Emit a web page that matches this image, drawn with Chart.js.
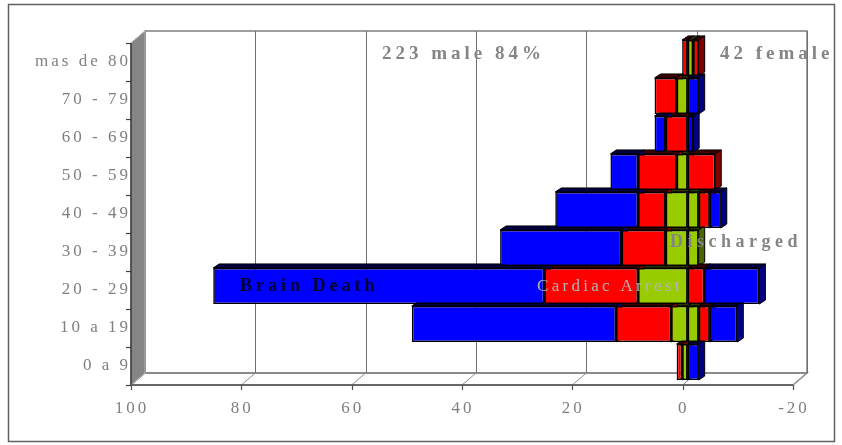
<!DOCTYPE html>
<html><head><meta charset="utf-8">
<script src="https://cdn.jsdelivr.net/npm/chart.js@4.4.1/dist/chart.umd.min.js"></script>
<style>html,body{margin:0;padding:0;background:#fff;overflow:hidden}</style>
</head><body>
<canvas id="c" width="842" height="445"></canvas>
<script>
// ---- data (top row first) ----
const categories = ['mas de 80','70 - 79','60 - 69','50 - 59','40 - 49','30 - 39','20 - 29','10 a 19','0 a 9'];
const maleDischarged     = [0,2,0,2,4,4,9,3,1];
const maleCardiacArrest  = [1,4,4,7,5,8,17,10,1];
const maleBrainDeath     = [0,0,2,5,15,22,60,37,0];
const femaleDischarged    = [1,0,0,0,2,2,0,2,0];
const femaleCardiacArrest = [1,0,0,5,2,0,3,2,0];
const femaleBrainDeath    = [0,2,1,0,2,0,10,5,2];
const xTickValues = [100,80,60,40,20,0,-20];
const seriesNames = ['Discharged','Cardiac Arrest','Brain Death'];

const sum = a => a.reduce((s,v)=>s+v,0);
const maleTotal = sum(maleDischarged)+sum(maleCardiacArrest)+sum(maleBrainDeath);
const femaleTotal = sum(femaleDischarged)+sum(femaleCardiacArrest)+sum(femaleBrainDeath);
const malePct = Math.round(maleTotal/(maleTotal+femaleTotal)*100);

const FONT = 'Liberation Serif';
const FRONT = {dx:-5, dy:4};   // front plane offset from bar plane
const BACK  = {dx:9,  dy:-8};  // back wall offset from bar plane
const DX = 6, DY = -4;         // bar depth

const colors = {
  green:{front:'#99CC00', side:'#4C6600', top:'#2a3800'},
  red:  {front:'#FF0000', side:'#800000', top:'#3a0000'},
  blue: {front:'#0000FF', side:'#000080', top:'#000040'}
};

function mk(label, data, c, neg){
  return {label, data: neg ? data.map(v=>-v) : data, backgroundColor:c.front,
    borderColor:'#000', borderWidth:1.6, borderSkipped:false,
    sideColor:c.side, topColor:c.top, stack:'s',
    barPercentage:0.95, categoryPercentage:1.0};
}

const threeD = {
  id:'threeD',
  beforeDraw(chart){
    const ctx = chart.ctx, a = chart.chartArea, xs = chart.scales.x, ys = chart.scales.y;
    ctx.save();
    ctx.letterSpacing = '0px';
    ctx.fillStyle = '#fff'; ctx.fillRect(0,0,chart.width,chart.height);
    const fl=a.left+FRONT.dx, fr=a.right+FRONT.dx, fb=a.bottom+FRONT.dy, ft=a.top+FRONT.dy;
    const bl=a.left+BACK.dx, br=a.right+BACK.dx, bb=a.bottom+BACK.dy, bt=a.top+BACK.dy;
    // floor
    ctx.beginPath(); ctx.moveTo(fl,fb); ctx.lineTo(fr,fb); ctx.lineTo(br,bb); ctx.lineTo(bl,bb); ctx.closePath();
    ctx.fillStyle='#ffffff'; ctx.fill();
    ctx.strokeStyle='#909090'; ctx.lineWidth=1.5; ctx.stroke();
    // back wall
    ctx.strokeStyle='#808080'; ctx.lineWidth=1.5;
    ctx.strokeRect(bl, bt, br-bl, bb-bt);
    // gridlines on back wall + floor
    ctx.lineWidth=1;
    xTickValues.forEach(v=>{
      const x = xs.getPixelForValue(v);
      const xb = Math.round(x+BACK.dx)+0.5;
      ctx.strokeStyle='#707070';
      ctx.beginPath(); ctx.moveTo(xb, bt); ctx.lineTo(xb, bb); ctx.stroke();
      ctx.strokeStyle='#909090';
      ctx.beginPath(); ctx.moveTo(x+FRONT.dx, fb); ctx.lineTo(x+BACK.dx, bb); ctx.stroke();
    });
    // front axis line + ticks
    ctx.strokeStyle='#505050'; ctx.lineWidth=1.5;
    ctx.beginPath(); ctx.moveTo(fl,fb); ctx.lineTo(fr,fb); ctx.stroke();
    ctx.lineWidth=1.2;
    xTickValues.forEach(v=>{
      const x = Math.round(xs.getPixelForValue(v)+FRONT.dx)+0.5;
      ctx.beginPath(); ctx.moveTo(x, fb); ctx.lineTo(x, fb+5); ctx.stroke();
    });
    // left wall
    ctx.beginPath(); ctx.moveTo(fl,fb); ctx.lineTo(fl,ft); ctx.lineTo(bl,bt); ctx.lineTo(bl,bb); ctx.closePath();
    ctx.fillStyle='#858585'; ctx.fill();
    ctx.strokeStyle='#5a5a5a'; ctx.lineWidth=1; ctx.stroke();
    ctx.strokeStyle='#c8c8c8';
    ctx.beginPath(); ctx.moveTo(fl,ft); ctx.lineTo(bl,bt); ctx.lineTo(bl,bb); ctx.lineTo(fl,fb); ctx.stroke();
    ctx.strokeStyle='#404040'; ctx.lineWidth=1.5;
    ctx.beginPath(); ctx.moveTo(fl,ft); ctx.lineTo(fl,fb); ctx.stroke();
    // category ticks on left wall front edge
    ctx.lineWidth=1.2;
    for(let i=0;i<=categories.length;i++){
      const y = Math.round(ys.getPixelForValue(i-0.5)+FRONT.dy)+0.5;
      ctx.beginPath(); ctx.moveTo(fl-5,y); ctx.lineTo(fl,y); ctx.stroke();
    }
    ctx.restore();
    ctx.letterSpacing = '3px';
  },
  beforeDatasetsDraw(chart){
    const ctx = chart.ctx;
    ctx.save();
    ctx.strokeStyle='#000'; ctx.lineWidth=1;
    chart.data.datasets.forEach((ds,di)=>{
      const meta = chart.getDatasetMeta(di);
      meta.data.forEach(el=>{
        const p = el.getProps(['x','y','base','height'], true);
        if (Math.abs(p.x-p.base) < 0.5) return;
        const l=Math.min(p.x,p.base), r=Math.max(p.x,p.base), t=p.y-p.height/2, b=p.y+p.height/2;
        ctx.fillStyle = ds.topColor;
        ctx.beginPath(); ctx.moveTo(l,t); ctx.lineTo(l+DX,t+DY); ctx.lineTo(r+DX,t+DY); ctx.lineTo(r,t); ctx.closePath();
        ctx.fill(); ctx.stroke();
        ctx.fillStyle = ds.sideColor;
        ctx.beginPath(); ctx.moveTo(r,t); ctx.lineTo(r+DX,t+DY); ctx.lineTo(r+DX,b+DY); ctx.lineTo(r,b); ctx.closePath();
        ctx.fill(); ctx.stroke();
      });
    });
    ctx.restore();
  },
  afterDraw(chart){
    const ctx = chart.ctx;
    ctx.save();
    ctx.beginPath(); ctx.rect(9,5,825,436); ctx.clip();
    ctx.textBaseline='middle'; ctx.textAlign='left';
    const txt = (s,x,y,font,color,ls)=>{ctx.font=font; ctx.fillStyle=color; ctx.letterSpacing=ls; ctx.fillText(s,x,y);};
    txt(maleTotal+' male '+malePct+'%', 382, 54, 'bold 19px "'+FONT+'"', '#858585', '4px');
    txt(femaleTotal+' female', 720, 54, 'bold 19px "'+FONT+'"', '#858585', '4px');
    txt(seriesNames[2], 240, 286, 'bold 18px "'+FONT+'"', '#000033', '4px');
    txt(seriesNames[1], 537, 287, '17px "'+FONT+'"', '#b4b4b4', '3.3px');
    txt(seriesNames[0], 670, 242, 'bold 18px "'+FONT+'"', '#858585', '4.5px');
    ctx.restore();
    ctx.save();
    ctx.letterSpacing='0px';
    ctx.strokeStyle='#606060'; ctx.lineWidth=1.5;
    ctx.strokeRect(8.5,4.5,826,437);
    ctx.restore();
  }
};

new Chart(document.getElementById('c'), {
  type:'bar',
  data:{
    labels: categories,
    datasets:[
      mk('Discharged', maleDischarged, colors.green, false),
      mk('Cardiac Arrest', maleCardiacArrest, colors.red, false),
      mk('Brain Death', maleBrainDeath, colors.blue, false),
      mk('Discharged (female)', femaleDischarged, colors.green, true),
      mk('Cardiac Arrest (female)', femaleCardiacArrest, colors.red, true),
      mk('Brain Death (female)', femaleBrainDeath, colors.blue, true)
    ]
  },
  options:{
    indexAxis:'y',
    responsive:false, animation:false, devicePixelRatio:1,
    layout:{padding:{top:39,right:44,left:0,bottom:0}},
    plugins:{legend:{display:false}, tooltip:{enabled:false}, title:{display:false}},
    scales:{
      x:{stacked:true, reverse:true, min:-20, max:100,
        afterFit(s){ s.height = 64; },
        grid:{display:false, drawTicks:false}, border:{display:false},
        ticks:{stepSize:20, color:'#808080', font:{family:FONT, size:17}, padding:17, labelOffset:-4, maxRotation:0, autoSkip:false}},
      y:{stacked:true,
        afterFit(s){ s.width = 136; },
        grid:{display:false, drawTicks:false}, border:{display:false},
        ticks:{color:'#808080', font:{family:FONT, size:17}, padding:5, labelOffset:4, autoSkip:false}}
    }
  },
  plugins:[threeD]
});
</script>
</body></html>
